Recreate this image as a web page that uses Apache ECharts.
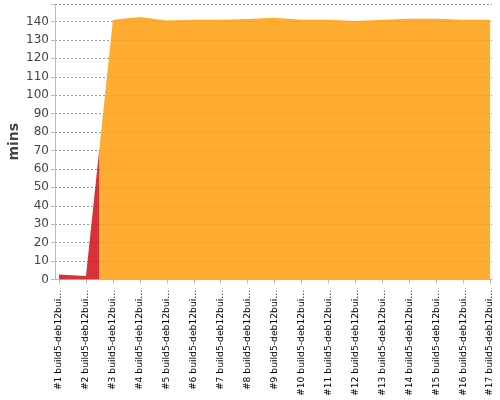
<!DOCTYPE html>
<html>
<head>
<meta charset="utf-8">
<script src="https://cdn.jsdelivr.net/npm/echarts@6/dist/echarts.min.js"></script>
<style>html,body{margin:0;padding:0;background:#fff}#c{width:500px;height:400px}</style>
</head>
<body>
<div id="c"></div>
<script>
// Build labels (as shown, truncated)
const buildLabels = [
  "#1 build5-deb12bui…", "#2 build5-deb12bui…", "#3 build5-deb12bui…", "#4 build5-deb12bui…",
  "#5 build5-deb12bui…", "#6 build5-deb12bui…", "#7 build5-deb12bui…", "#8 build5-deb12bui…",
  "#9 build5-deb12bui…", "#10 build5-deb12bui…", "#11 build5-deb12bui…", "#12 build5-deb12bui…",
  "#13 build5-deb12bui…", "#14 build5-deb12bui…", "#15 build5-deb12bui…", "#16 build5-deb12bui…",
  "#17 build5-deb12bui…"
];
// Build durations in minutes, per result status
const failedMins   = [2.7, 1.9, null, null, null, null, null, null, null, null, null, null, null, null, null, null, null];
const unstableMins = [null, null, 141, 142.5, 140.5, 141, 141, 141.3, 142, 141, 141, 140.3, 141, 141.5, 141.5, 141, 141];
const yTicks = [0, 10, 20, 30, 40, 50, 60, 70, 80, 90, 100, 110, 120, 130, 140];

const allSeries = [failedMins, unstableMins];
const totals = buildLabels.map((_, i) => allSeries.reduce((a, s) => a + (s[i] || 0), 0));

// Stacked-area style with half-category transitions (like the original renderer)
function toPoints(vals) {
  const pts = [];
  for (let i = 0; i < vals.length; i++) {
    const v = vals[i];
    if (v == null) continue;
    if (i > 0 && vals[i - 1] == null && totals[i - 1] > 0) {
      pts.push([i + 0.5, (totals[i - 1] + v) / 2]);
    }
    pts.push([i + 1, v]);
    if (i + 1 < vals.length && vals[i + 1] == null && totals[i + 1] > 0) {
      pts.push([i + 1.5, (v + totals[i + 1]) / 2]);
    }
  }
  return pts;
}

const positions = buildLabels.map((_, i) => i + 1);
const chart = echarts.init(document.getElementById('c'), null, {renderer: 'canvas'});
chart.setOption({
  animation: false,
  backgroundColor: '#ffffff',
  grid: {left: 55, right: 8, top: 4, bottom: 120.5, containLabel: false, outerBoundsMode: 'none'},
  xAxis: {
    type: 'value',
    min: 0.85, max: 17.07,
    offset: 4,
    axisLine: {show: true, lineStyle: {color: '#bbbbbb', width: 1}},
    axisTick: {show: true, customValues: positions, length: 4, lineStyle: {color: '#bbbbbb'}},
    splitLine: {show: false},
    axisLabel: {
      customValues: positions,
      rotate: 90, margin: 6,
      fontFamily: 'DejaVu Sans', fontSize: 9.2, color: '#000',
      hideOverlap: false,
      formatter: v => buildLabels[Math.round(v) - 1] || ''
    }
  },
  yAxis: {
    type: 'value',
    min: 0, max: 149.5, interval: 10,
    name: 'mins', nameLocation: 'middle', nameGap: 34, nameRotate: 90,
    nameMoveOverlap: false,
    nameTextStyle: {fontFamily: 'DejaVu Sans', fontSize: 14, fontWeight: 'bold', color: '#444'},
    axisLine: {show: true, lineStyle: {color: '#bbbbbb', width: 1}},
    axisTick: {show: true, length: 4, lineStyle: {color: '#bbbbbb'}},
    axisLabel: {
      fontFamily: 'DejaVu Sans', fontSize: 12, color: '#444', margin: 6,
      formatter: v => yTicks.includes(v) ? String(v) : ''
    },
    splitLine: {show: true, lineStyle: {color: '#999', type: [2, 2], width: 1}}
  },
  series: [
    {
      name: 'Failed', type: 'line', data: toPoints(failedMins),
      symbol: 'none', lineStyle: {width: 0}, areaStyle: {color: '#D00E14', opacity: 0.85}, z: 2
    },
    {
      name: 'Unstable', type: 'line', data: toPoints(unstableMins),
      symbol: 'none', lineStyle: {width: 0}, areaStyle: {color: '#FF9D0F', opacity: 0.85}, z: 3
    }
  ]
});
</script>
</body>
</html>
